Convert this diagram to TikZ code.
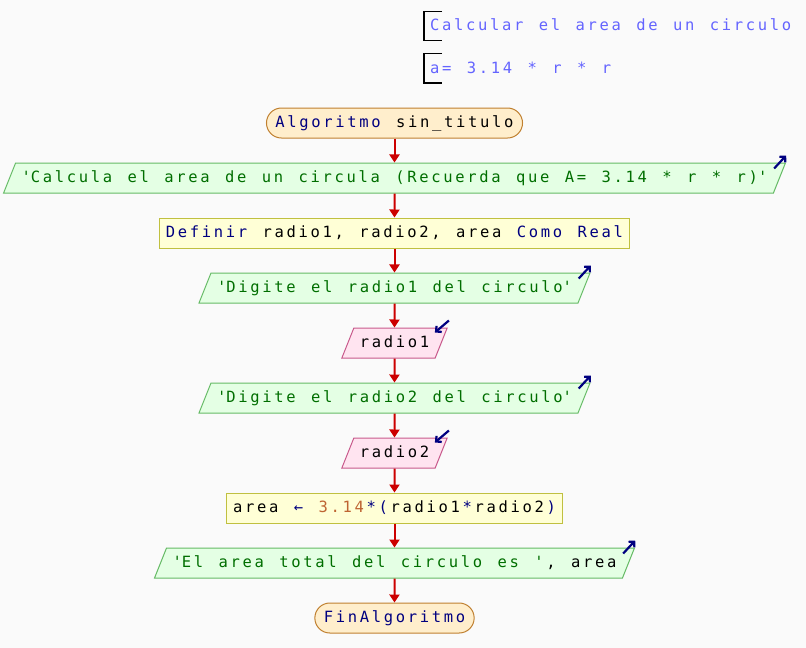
\documentclass[tikz,border=0pt]{standalone}
\usepackage{fontspec}
\usetikzlibrary{shapes.geometric,arrows.meta}
\newfontfamily\pseint{DejaVu Sans Mono}[LetterSpace=17.2,WordSpace={1.286,0,0}]
\definecolor{fondo}{RGB}{250,250,250}
\definecolor{rojoflecha}{RGB}{204,0,0}
\definecolor{azulclave}{RGB}{0,0,128}
\definecolor{verdetexto}{RGB}{0,110,0}
\definecolor{numcolor}{RGB}{190,100,50}
\definecolor{comentcolor}{RGB}{100,100,255}
\definecolor{rellenoterm}{RGB}{255,238,204}
\definecolor{bordeterm}{RGB}{192,128,48}
\definecolor{rellenosal}{RGB}{228,255,228}
\definecolor{bordesal}{RGB}{102,187,102}
\definecolor{rellenoproc}{RGB}{255,255,214}
\definecolor{bordeproc}{RGB}{192,192,64}
\definecolor{rellenolee}{RGB}{255,228,240}
\definecolor{bordelee}{RGB}{200,90,140}
\newcommand{\clave}[1]{\textcolor{azulclave}{#1}}
\newcommand{\cadena}[1]{\textcolor{verdetexto}{#1}}
\newcommand{\numero}[1]{\textcolor{numcolor}{#1}}
\newcommand{\q}{\textquotesingle}
% espacio entre letras donde cambia el color
\newcommand{\ls}{\kern2.67pt}
\begin{document}
\begin{tikzpicture}[x=1pt,y=-1pt,
    font=\pseint\fontsize{15.5pt}{18pt}\selectfont,
    caja/.style={inner xsep=6.5pt, inner ysep=7pt, text height=12pt, text depth=4pt, line width=1pt},
    terminal/.style={caja, draw=bordeterm, fill=rellenoterm, rounded corners=15pt, inner xsep=9pt},
    proceso/.style={caja, draw=bordeproc, fill=rellenoproc},
    paralelo/.style={caja, trapezium, trapezium left angle=68.2, trapezium right angle=111.8, inner xsep=6pt},
    salida/.style={paralelo, draw=bordesal, fill=rellenosal},
    lectura/.style={paralelo, draw=bordelee, fill=rellenolee},
    comentario/.style={anchor=west, inner sep=0pt, text height=12pt, text depth=4pt, text=comentcolor},
    flecha/.style={draw=rojoflecha, line width=2pt, -{Triangle[length=8pt,width=10pt]}},
    icono/.style={draw=azulclave, line width=2.2pt, -{Straight Barb[length=4pt,width=8pt]}},
    corchete/.style={draw=black, line width=1.2pt}]
    \fill[fondo] (0,0) rectangle (806,648);
    \useasboundingbox (0,0) rectangle (806,648);

    \node[comentario] (com1) at (430,26) {Calcular el area de un circulo};
    \node[comentario] (com2) at (430,69) {a= 3.14 * r * r};
    \draw[corchete] ([shift={(12,-14.5)}]com1.west) -- ([shift={(-6,-14.5)}]com1.west) -- ([shift={(-6,14.5)}]com1.west) -- ([shift={(12,14.5)}]com1.west);
    \draw[corchete] ([shift={(12,-15.5)}]com2.west) -- ([shift={(-6,-15.5)}]com2.west) -- ([shift={(-6,14)}]com2.west) -- ([shift={(12,14)}]com2.west);

    \node[terminal] (inicio) at (394.5,123) {\clave{Algoritmo} sin\_titulo};
    \node[salida] (sal1) at (394.5,178) {\cadena{\q Calcula el area de un circula (Recuerda que A= 3.14 * r * r)\q}};
    \node[proceso] (definir) at (394.5,233) {\clave{Definir} radio1, radio2, area \clave{Como Real}};
    \node[salida] (sal2) at (394.5,288) {\cadena{\q Digite el radio1 del circulo\q}};
    \node[lectura] (leer1) at (394.5,343) {radio1};
    \node[salida] (sal3) at (394.5,398) {\cadena{\q Digite el radio2 del circulo\q}};
    \node[lectura] (leer2) at (394.5,453) {radio2};
    \node[proceso] (asignar) at (394.5,508) {area \clave{←} \numero{3.14}\ls\clave{*(}\ls radio1\ls\clave{*}\ls radio2\ls\clave{)}};
    \node[salida] (sal4) at (394.5,563) {\cadena{\q El area total del circulo es \q}\ls, area};
    \node[terminal] (fin) at (394.5,618) {\clave{FinAlgoritmo}};

    \draw[flecha] (inicio) -- (sal1); \draw[flecha] (sal1) -- (definir); \draw[flecha] (definir) -- (sal2);
    \draw[flecha] (sal2) -- (leer1); \draw[flecha] (leer1) -- (sal3); \draw[flecha] (sal3) -- (leer2);
    \draw[flecha] (leer2) -- (asignar); \draw[flecha] (asignar) -- (sal4); \draw[flecha] (sal4) -- (fin);

    \draw[icono] ([shift={(-12,6)}]sal1.top right corner) -- ([shift={(0,-7)}]sal1.top right corner);
    \draw[icono] ([shift={(-12,6)}]sal2.top right corner) -- ([shift={(0,-7)}]sal2.top right corner);
    \draw[icono] ([shift={(-12,6)}]sal3.top right corner) -- ([shift={(0,-7)}]sal3.top right corner);
    \draw[icono] ([shift={(-12,6)}]sal4.top right corner) -- ([shift={(0,-7)}]sal4.top right corner);
    \draw[icono] ([shift={(1,-7)}]leer1.top right corner) -- ([shift={(-13,5)}]leer1.top right corner);
    \draw[icono] ([shift={(1,-7)}]leer2.top right corner) -- ([shift={(-13,5)}]leer2.top right corner);
\end{tikzpicture}
\end{document}
